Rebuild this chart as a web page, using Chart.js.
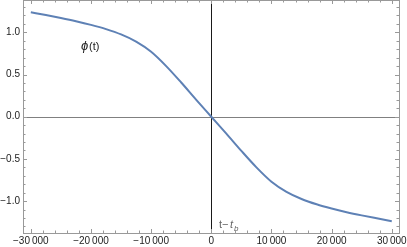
<!DOCTYPE html>
<html>
<head>
<meta charset="utf-8">
<script src="https://cdn.jsdelivr.net/npm/chart.js@4"></script>
<style>
  html, body { margin: 0; padding: 0; background: #fff; }
  #wrap { position: relative; width: 407px; height: 247px; }
</style>
</head>
<body>
<div id="wrap"><canvas id="phiChart"></canvas></div>
<script>
// curve samples, t - t_b vs phi(t)
const tValues = [-30000, -27500, -25000, -22500, -20000, -17500, -15000, -12500, -10000, -7500, -5000, -2500,
  0, 2500, 5000, 7500, 10000, 12500, 15000, 17500, 20000, 22500, 25000, 27500, 30000];
const phiValues = [1.238, 1.204, 1.169, 1.131, 1.088, 1.038, 0.975, 0.89, 0.77, 0.6, 0.405, 0.2,
  0, -0.2, -0.405, -0.6, -0.77, -0.89, -0.975, -1.038, -1.088, -1.131, -1.169, -1.204, -1.238];

const xTicks = [-30000, -20000, -10000, 0, 10000, 20000, 30000];
const yTicks = [-1.0, -0.5, 0.0, 0.5, 1.0];

const FONT = '"Liberation Sans", Arial, sans-serif';

function fmtX(v) {
  const s = Math.abs(v) >= 10000 ? Math.abs(v).toString().replace(/(\d+)(\d{3})$/, '$1\u2009$2') : Math.abs(v).toString();
  return (v < 0 ? '\u2212' : '') + s;
}
function fmtY(v) {
  return (v < 0 ? '\u2212' : '') + Math.abs(v).toFixed(1);
}

// frame, inward ticks, axis lines and labels
const framePlugin = {
  id: 'frame',
  beforeDatasetsDraw(chart) {
    const { ctx, chartArea: a, scales: { x, y } } = chart;
    ctx.save();
    // axes through the origin
    ctx.lineWidth = 1;
    ctx.strokeStyle = '#808080';
    const y0 = Math.round(y.getPixelForValue(0)) + 0.5;
    ctx.beginPath(); ctx.moveTo(a.left, y0); ctx.lineTo(a.right, y0); ctx.stroke();
    ctx.strokeStyle = '#1a1a1a';
    const x0 = Math.round(x.getPixelForValue(0)) + 0.5;
    ctx.beginPath(); ctx.moveTo(x0, a.top); ctx.lineTo(x0, a.bottom); ctx.stroke();
    ctx.restore();
  },
  afterDatasetsDraw(chart) {
    const { ctx, chartArea: a, scales: { x, y } } = chart;
    ctx.save();
    ctx.lineWidth = 1;
    ctx.strokeStyle = '#999';
    ctx.strokeRect(Math.round(a.left) + 0.5, Math.round(a.top) + 0.5,
      Math.round(a.right - a.left), Math.round(a.bottom - a.top));

    ctx.beginPath();
    for (let v = -30000; v <= 30000; v += 2000) {
      const len = v % 10000 === 0 ? 4 : 2.5;
      const px = Math.round(x.getPixelForValue(v)) + 0.5;
      ctx.moveTo(px, a.bottom); ctx.lineTo(px, a.bottom - len);
      ctx.moveTo(px, a.top); ctx.lineTo(px, a.top + len);
    }
    for (let i = -13; i <= 13; i++) {
      const v = i / 10;
      const len = i % 5 === 0 ? 4 : 2.5;
      const py = Math.round(y.getPixelForValue(v)) + 0.5;
      ctx.moveTo(a.left, py); ctx.lineTo(a.left + len, py);
      ctx.moveTo(a.right, py); ctx.lineTo(a.right - len, py);
    }
    ctx.stroke();

    // labels
    ctx.fillStyle = '#222';
    ctx.font = 'italic 13px ' + FONT;
    ctx.textBaseline = 'alphabetic';
    ctx.fillText('\u03d5', 81, 50);
    ctx.font = '11px ' + FONT;
    ctx.fillText('(t)', 89, 50);

    ctx.fillStyle = '#666';
    ctx.font = '11px ' + FONT;
    ctx.fillText('t\u2212', 219, 228);
    ctx.font = 'italic 11px ' + FONT;
    ctx.fillText('t', 230, 228);
    ctx.font = 'italic 8px ' + FONT;
    ctx.fillText('b', 234, 231);
    ctx.restore();
  }
};

new Chart(document.getElementById('phiChart'), {
  type: 'line',
  data: {
    labels: tValues,
    datasets: [{
      data: tValues.map((t, i) => ({ x: t, y: phiValues[i] })),
      borderColor: '#5e81b5',
      borderWidth: 2,
      pointRadius: 0,
      cubicInterpolationMode: 'monotone',
      fill: false
    }]
  },
  options: {
    responsive: true,
    maintainAspectRatio: false,
    animation: false,
    layout: { padding: { top: 0, right: 8, left: 0, bottom: 0 } },
    plugins: { legend: { display: false }, tooltip: { enabled: false } },
    scales: {
      x: {
        type: 'linear',
        min: -31300,
        max: 31200,
        afterBuildTicks: s => { s.ticks = xTicks.map(v => ({ value: v })); },
        afterFit: s => { s.height = 14; s.paddingLeft = 0; s.paddingRight = 0; },
        grid: { display: false, drawTicks: false },
        border: { display: false },
        ticks: {
          padding: 2,
          maxRotation: 0,
          autoSkip: false,
          color: '#222',
          font: { family: FONT, size: 10 },
          callback: v => fmtX(v)
        }
      },
      y: {
        type: 'linear',
        min: -1.378,
        max: 1.383,
        afterBuildTicks: s => { s.ticks = yTicks.map(v => ({ value: v })); },
        afterFit: s => { s.width = 23; s.paddingTop = 0; s.paddingBottom = 0; },
        grid: { display: false, drawTicks: false },
        border: { display: false },
        ticks: {
          padding: 3,
          autoSkip: false,
          color: '#222',
          font: { family: FONT, size: 10 },
          callback: v => fmtY(v)
        }
      }
    }
  },
  plugins: [framePlugin]
});
</script>
</body>
</html>
